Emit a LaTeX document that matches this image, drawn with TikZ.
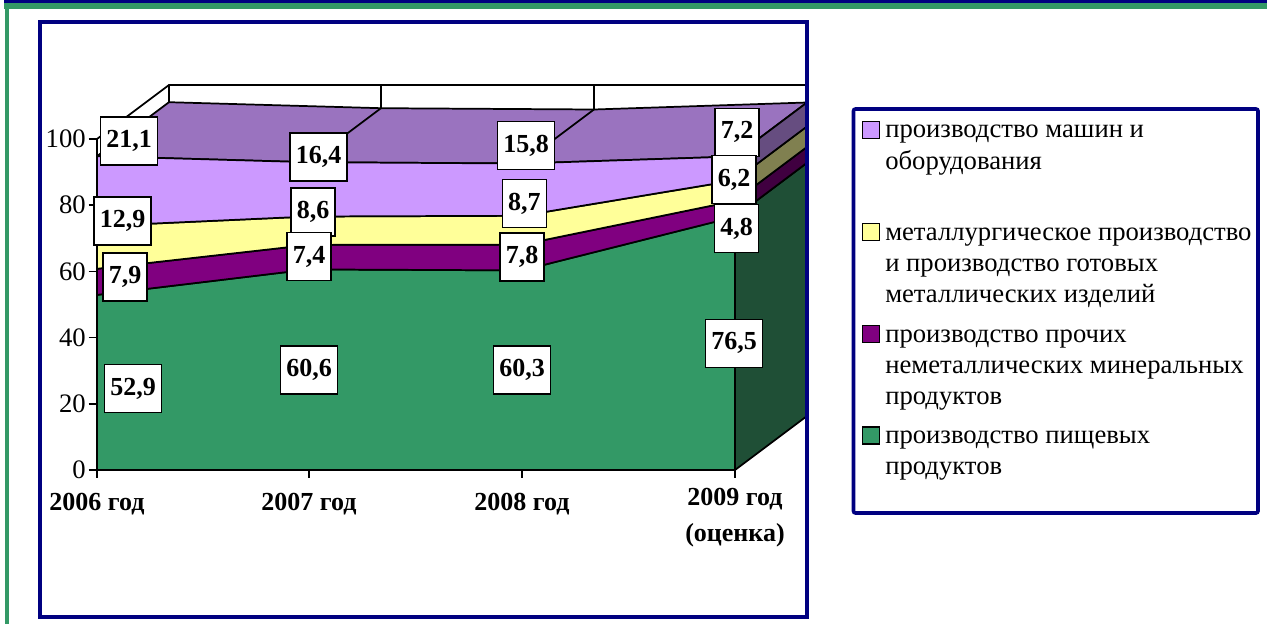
\documentclass[tikz,border=0pt]{standalone}
\usepackage{fontspec}
\setmainfont{Liberation Serif}
\definecolor{sgreen}{HTML}{339966}
\definecolor{sgreenD}{HTML}{1F4F36}
\definecolor{plum}{HTML}{800080}
\definecolor{plumD}{HTML}{400040}
\definecolor{lyellow}{HTML}{FFFF99}
\definecolor{lyellowD}{HTML}{808050}
\definecolor{lav}{HTML}{CC99FF}
\definecolor{lavD}{HTML}{664D80}
\definecolor{lavTop}{HTML}{9A73BF}
\definecolor{navyb}{HTML}{000080}
\begin{document}
\begin{tikzpicture}[x=0.75pt,y=-0.75pt,
  edge/.style={draw=black,line width=1.3pt,line join=round},
  vlabel/.style={draw=black,fill=white,line width=1.1pt,font=\fontsize{19.5}{23}\selectfont\bfseries,inner xsep=4.3pt,inner ysep=0pt,minimum height=36pt},
  ylab/.style={anchor=east,inner sep=0pt,font=\fontsize{20}{24}\selectfont},
  xlab/.style={anchor=base,inner sep=0pt,align=center,font=\fontsize{19.5}{26.6}\selectfont\bfseries},
  legtext/.style={anchor=base west,inner sep=0pt,font=\fontsize{20}{24}\selectfont},
  legkey/.style={draw=black,line width=1.1pt,minimum size=12.5pt,inner sep=0pt},
  frame/.style={draw=navyb,line width=2.7pt}]
\useasboundingbox (0,0) rectangle (1267,624);
% top bands and left green line
\fill[navyb] (4,0) rectangle (1267,2.8);
\fill[sgreen] (4,2.8) rectangle (1267,9.3);
\fill[sgreen] (4.8,2.8) rectangle (9,624);
% walls
\filldraw[fill=white,edge] (169,85) rectangle (807,416);
\draw[edge] (381,85) -- (381,416) (594,85) -- (594,416);
\filldraw[fill=white,edge] (97,139) -- (169,85) -- (169,416) -- (97,470) -- cycle;
% top face
\filldraw[fill=lavTop,edge] (97,156.2) -- (309,162.2) -- (522,163.5) -- (735,156.5)
  -- (807,102.5) -- (594,109.5) -- (381,108.2) -- (169,102.2) -- cycle;
\draw[edge] (309,162.2) -- (381,108.2) (522,163.5) -- (594,109.5);
% front faces
\filldraw[fill=sgreen,edge] (97,470) -- (97,294.9) -- (309,269.4) -- (522,270.4) -- (735,216.8) -- (735,470) -- cycle;
\filldraw[fill=plum,edge] (97,294.9) -- (309,269.4) -- (522,270.4) -- (735,216.8)
  -- (735,200.9) -- (522,244.6) -- (309,244.9) -- (97,268.8) -- cycle;
\filldraw[fill=lyellow,edge] (97,268.8) -- (309,244.9) -- (522,244.6) -- (735,200.9)
  -- (735,180.4) -- (522,215.8) -- (309,216.5) -- (97,226.1) -- cycle;
\filldraw[fill=lav,edge] (97,226.1) -- (309,216.5) -- (522,215.8) -- (735,180.4)
  -- (735,156.5) -- (522,163.5) -- (309,162.2) -- (97,156.2) -- cycle;
% side faces
\filldraw[fill=sgreenD,edge] (735,470) -- (735,216.8) -- (807,162.8) -- (807,416) -- cycle;
\filldraw[fill=plumD,edge] (735,216.8) -- (735,200.9) -- (807,146.9) -- (807,162.8) -- cycle;
\filldraw[fill=lyellowD,edge] (735,200.9) -- (735,180.4) -- (807,126.4) -- (807,146.9) -- cycle;
\filldraw[fill=lavD,edge] (735,180.4) -- (735,156.5) -- (807,102.5) -- (807,126.4) -- cycle;
% axes
\draw[edge] (97,139) -- (97,470) -- (735,470);
\foreach \v in {0,20,40,60,80,100} {
  \draw[edge] (88.5,{470-3.31*\v}) -- (97,{470-3.31*\v});
  \node[ylab] (yl\v) at (86,{470-3.31*\v}) {\v};
}
\foreach \xx in {97,309,522,735} { \draw[edge] (\xx,470) -- (\xx,478); }
\node[xlab] (x1) at (97,510) {2006 год};
\node[xlab] (x2) at (309,510) {2007 год};
\node[xlab] (x3) at (522,510) {2008 год};
\node[xlab,anchor=north] (x4) at (735,488) {2009 год\\(оценка)};
% value labels
\node[vlabel] (l1) at (129,141) {21,1};
\node[vlabel] (l2) at (318.7,157) {16,4};
\node[vlabel] (l3) at (526,145.5) {15,8};
\node[vlabel] (l4) at (737,132.3) {7,2};
\node[vlabel] (l5) at (122.5,221) {12,9};
\node[vlabel] (l6) at (313,212) {8,6};
\node[vlabel] (l7) at (524.3,203.5) {8,7};
\node[vlabel] (l8) at (734,179.5) {6,2};
\node[vlabel] (l9) at (125,277) {7,9};
\node[vlabel] (l10) at (309,256.7) {7,4};
\node[vlabel] (l11) at (522,257) {7,8};
\node[vlabel] (l12) at (736.5,228.7) {4,8};
\node[vlabel] (l13) at (133,388.5) {52,9};
\node[vlabel] (l14) at (309,370) {60,6};
\node[vlabel] (l15) at (522,370) {60,3};
\node[vlabel] (l16) at (734,343.3) {76,5};
% frames
\draw[frame] (40,22.3) rectangle (806.7,617);
\draw[frame,rounded corners=1.5pt] (853.5,109) rectangle (1258,513);
% legend
\node[legkey,fill=lav] (k1) at (871,130) {};
\node[legtext] (t11) at (885,138) {производство машин и};
\node[legtext] (t12) at (885,169.3) {оборудования};
\node[legkey,fill=lyellow] (k2) at (871,232) {};
\node[legtext] (t21) at (885,240) {металлургическое производство};
\node[legtext] (t22) at (885,271.3) {и производство готовых};
\node[legtext] (t23) at (885,302.6) {металлических изделий};
\node[legkey,fill=plum] (k3) at (871,334) {};
\node[legtext] (t31) at (885,342) {производство прочих};
\node[legtext] (t32) at (885,373.3) {неметаллических минеральных};
\node[legtext] (t33) at (885,404.6) {продуктов};
\node[legkey,fill=sgreen] (k4) at (871,435.5) {};
\node[legtext] (t41) at (885,443.5) {производство пищевых};
\node[legtext] (t42) at (885,474.8) {продуктов};
\end{tikzpicture}
\end{document}
